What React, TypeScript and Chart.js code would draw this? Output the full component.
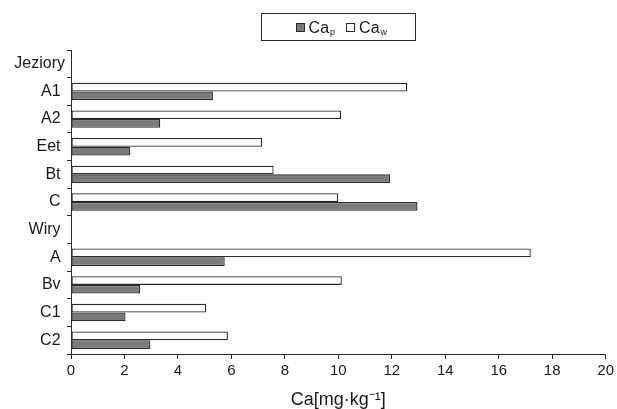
import React, { useEffect, useRef } from 'react';
import { Chart, registerables } from 'chart.js';

Chart.register(...registerables);

// ---- data ----
const categories = ['Jeziory', 'A1 ', 'A2 ', 'Eet ', 'Bt ', 'C ', 'Wiry ', 'A ', 'Bv ', 'C1 ', 'C2 '];
const caW = [null, 12.58, 10.1, 7.15, 7.58, 10.0, null, 17.2, 10.13, 5.06, 5.87];
const caP = [null, 5.31, 3.34, 2.22, 11.94, 12.96, null, 5.75, 2.59, 2.04, 2.97];
const xTicks = { min: 0, max: 20, step: 2 };
const legendItems = [
  { base: 'Ca', sub: 'p', fill: '#7a7a7a' },
  { base: 'Ca', sub: 'w', fill: '#ffffff' },
];
const axisTitle = 'Ca[mg·kg⁻¹]';

const FONT = "'Liberation Sans', Arial, sans-serif";
const DARK = '#2b2b2b';

const legendPlugin = {
  id: 'subLegend',
  afterDraw(chart: any) {
    const { ctx, chartArea } = chart;
    const cx = (chartArea.left + chartArea.right) / 2;
    const boxW = 154, boxH = 27, boxTop = 13;
    ctx.save();
    ctx.strokeStyle = DARK;
    ctx.lineWidth = 1;
    ctx.strokeRect(Math.round(cx - boxW / 2) + 0.5, boxTop + 0.5, boxW, boxH);
    const sq = 8, gapSq = 5, gapItem = 11;
    const baseFont = `16px ${FONT}`;
    const subFont = `9px ${FONT}`;
    const widths = legendItems.map((it) => {
      ctx.font = baseFont;
      const wb = ctx.measureText(it.base).width;
      ctx.font = subFont;
      const ws = ctx.measureText(it.sub).width;
      return { wb, ws, total: sq + gapSq + wb + 1 + ws };
    });
    const total = widths.reduce((a, w) => a + w.total, 0) + gapItem * (legendItems.length - 1);
    let x = cx - total / 2 + 3;
    const midY = boxTop + boxH / 2 + 0.5;
    legendItems.forEach((it, i) => {
      const w = widths[i];
      ctx.fillStyle = it.fill;
      ctx.fillRect(Math.round(x) + 0.5, Math.round(midY - sq / 2) + 0.5, sq, sq);
      ctx.strokeStyle = DARK;
      ctx.strokeRect(Math.round(x) + 0.5, Math.round(midY - sq / 2) + 0.5, sq, sq);
      x += sq + gapSq;
      ctx.fillStyle = '#1a1a1a';
      ctx.textBaseline = 'alphabetic';
      ctx.textAlign = 'left';
      ctx.font = baseFont;
      const baseline = midY + 5.5;
      ctx.fillText(it.base, x, baseline);
      x += w.wb + 1;
      ctx.font = subFont;
      ctx.fillText(it.sub, x, baseline + 2.5);
      x += w.ws + gapItem;
    });
    ctx.restore();
  },
};

export default function App() {
  const ref = useRef<HTMLCanvasElement>(null);
  useEffect(() => {
    if (!ref.current) return;
    const chart = new Chart(ref.current, {
      type: 'bar',
      data: {
        labels: categories,
        datasets: [
          {
            label: 'Ca_w',
            data: caW,
            backgroundColor: '#ffffff',
            borderColor: DARK,
            borderWidth: 1.3,
            borderSkipped: false,
            categoryPercentage: 0.63,
            barPercentage: 1.0,
          },
          {
            label: 'Ca_p',
            data: caP,
            backgroundColor: '#7a7a7a',
            borderColor: DARK,
            borderWidth: 1.3,
            borderSkipped: false,
            categoryPercentage: 0.63,
            barPercentage: 1.0,
          },
        ],
      },
      options: {
        indexAxis: 'y',
        responsive: false,
        animation: false,
        devicePixelRatio: 1,
        layout: { padding: { top: 50, right: 11, left: 0, bottom: 0 } },
        plugins: {
          legend: { display: false },
          tooltip: { enabled: false },
        },
        scales: {
          x: {
            type: 'linear',
            min: xTicks.min,
            max: xTicks.max,
            ticks: {
              stepSize: xTicks.step,
              color: '#1a1a1a',
              font: { family: FONT, size: 15 },
              padding: 3,
            },
            grid: {
              display: true,
              drawOnChartArea: false,
              drawTicks: true,
              tickLength: 5,
              color: DARK,
            },
            border: { display: true, color: DARK, width: 1 },
            title: {
              display: true,
              text: axisTitle,
              color: '#1a1a1a',
              font: { family: FONT, size: 18 },
              padding: { top: 0, bottom: -2 },
            },
            afterFit(scale: any) {
              scale.height = 55;
            },
          },
          y: {
            type: 'category',
            ticks: {
              color: '#1a1a1a',
              font: { family: FONT, size: 16 },
              padding: 2,
            },
            grid: {
              display: true,
              drawOnChartArea: false,
              drawTicks: true,
              tickLength: 4,
              offset: true,
              color: DARK,
            },
            border: { display: true, color: DARK, width: 1 },
            afterFit(scale: any) {
              scale.width = 71;
            },
          },
        },
      },
      plugins: [legendPlugin],
    } as any);
    return () => chart.destroy();
  }, []);
  return (
    <div style={{ position: 'absolute', left: 0, top: 0, width: 617, height: 409 }}>
      <canvas ref={ref} width={617} height={409} />
    </div>
  );
}
